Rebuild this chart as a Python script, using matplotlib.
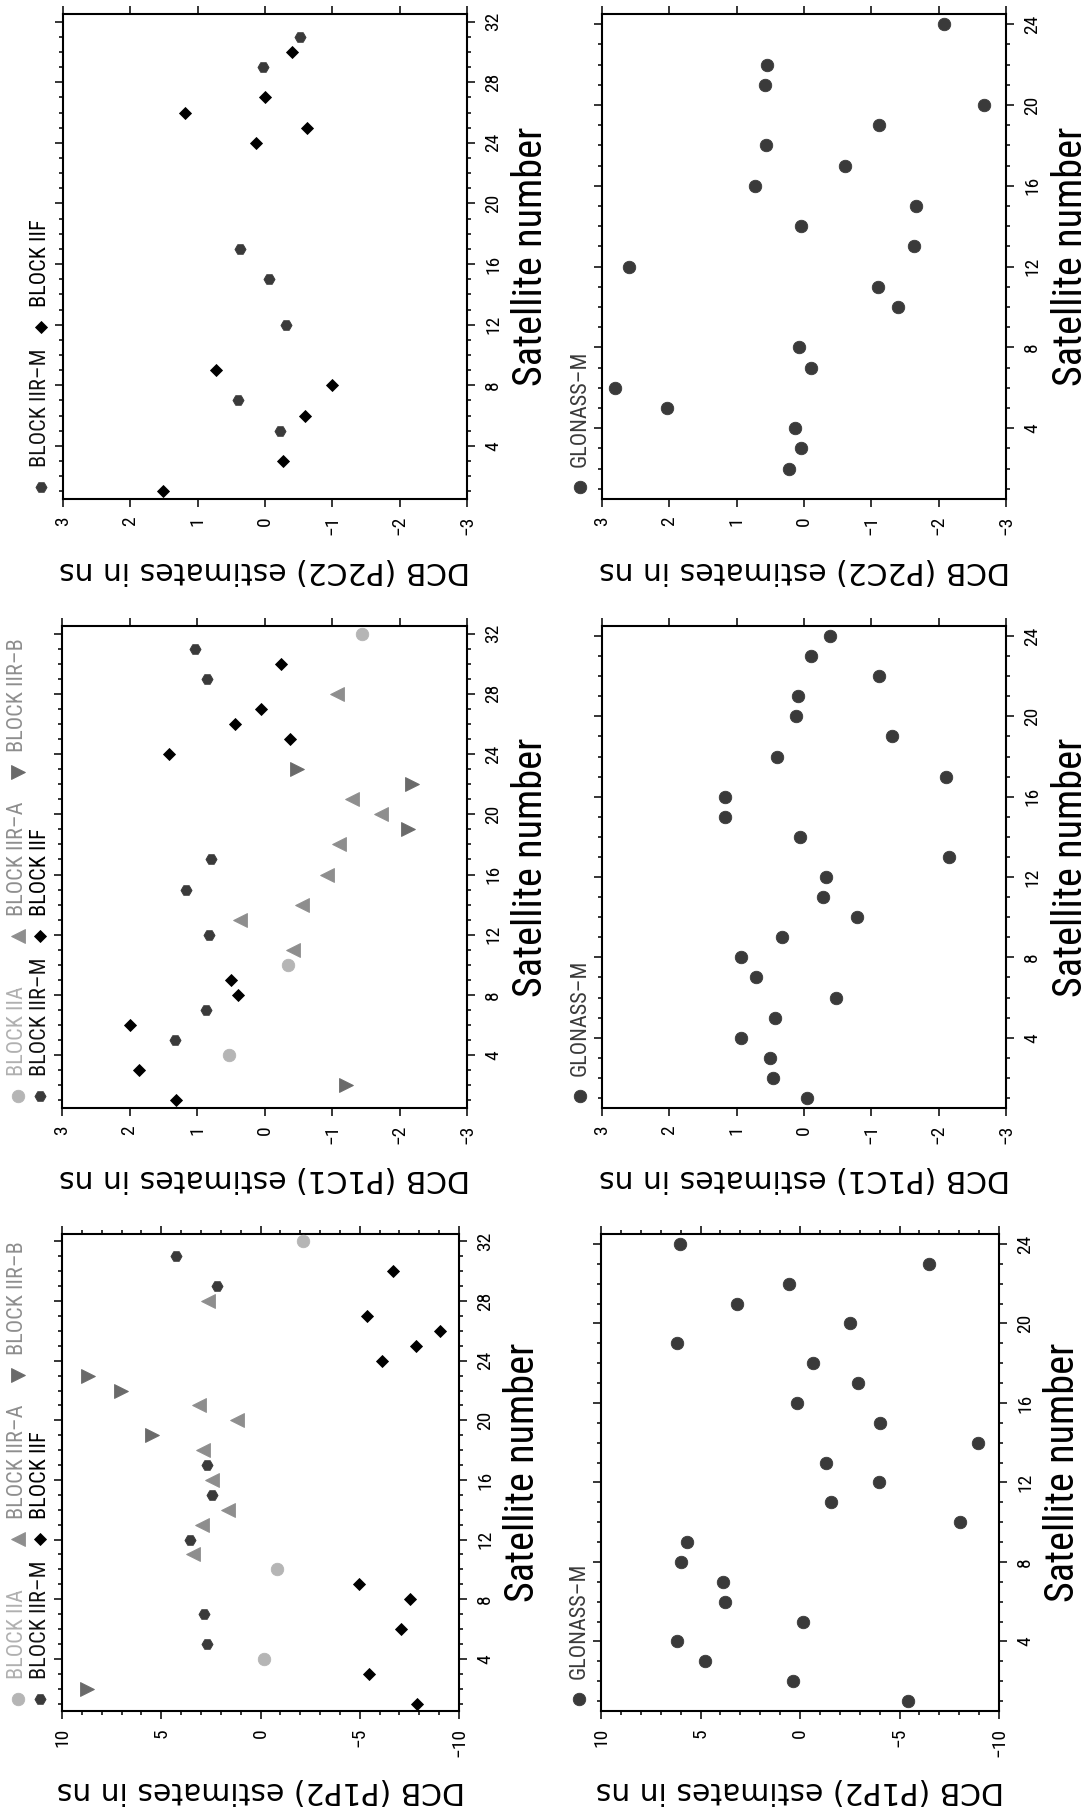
import matplotlib
matplotlib.use("Agg")
import matplotlib.pyplot as plt
from matplotlib.lines import Line2D
from matplotlib.ticker import MultipleLocator

# ---------------------------------------------------------------- data
# GPS, DCB P2C2 (ns)
p2c2_gps_iirm_sat = [5, 7, 12, 15, 17, 29, 31]
p2c2_gps_iirm = [-0.23, 0.40, -0.31, -0.06, 0.37, 0.03, -0.52]
p2c2_gps_iif_sat = [1, 3, 6, 8, 9, 24, 25, 26, 27, 30]
p2c2_gps_iif = [1.52, -0.27, -0.59, -0.99, 0.73, 0.14, -0.62, 1.19, 0.00, -0.40]

# GLONASS, DCB P2C2 (ns)
p2c2_glo_sat = [2, 3, 4, 5, 6, 7, 8, 10, 11, 12, 13, 14, 15, 16, 17, 18, 19, 20, 21, 22, 24]
p2c2_glo = [0.22, 0.04, 0.14, 2.04, 2.81, -0.11, 0.07, -1.40, -1.10, 2.60, -1.64,
            0.04, -1.66, 0.73, -0.61, 0.56, -1.12, -2.67, 0.58, 0.55, -2.08]

# GPS, DCB P1C1 (ns)
p1c1_gps_iia_sat = [4, 10, 32]
p1c1_gps_iia = [0.53, -0.35, -1.45]
p1c1_gps_iira_sat = [11, 13, 14, 16, 18, 20, 21, 28]
p1c1_gps_iira = [-0.42, 0.37, -0.56, -0.93, -1.11, -1.72, -1.30, -1.07]
p1c1_gps_iirb_sat = [2, 19, 22, 23]
p1c1_gps_iirb = [-1.21, -2.12, -2.19, -0.48]
p1c1_gps_iirm_sat = [5, 7, 12, 15, 17, 29, 31]
p1c1_gps_iirm = [1.32, 0.86, 0.82, 1.17, 0.79, 0.85, 1.03]
p1c1_gps_iif_sat = [1, 3, 6, 8, 9, 24, 25, 26, 27, 30]
p1c1_gps_iif = [1.31, 1.86, 1.99, 0.40, 0.49, 1.42, -0.38, 0.44, 0.05, -0.25]

# GLONASS, DCB P1C1 (ns)
p1c1_glo_sat = list(range(1, 25))
p1c1_glo = [-0.04, 0.46, 0.51, 0.94, 0.43, -0.48, 0.72, 0.93, 0.33, -0.78, -0.28, -0.33,
            -2.16, 0.06, 1.18, 1.18, -2.11, 0.40, -1.31, 0.12, 0.09, -1.11, -0.11, -0.38]

# GPS, DCB P1P2 (ns)
p1p2_gps_iia_sat = [4, 10, 32]
p1p2_gps_iia = [-0.17, -0.85, -2.16]
p1p2_gps_iira_sat = [11, 13, 14, 16, 18, 20, 21, 28]
p1p2_gps_iira = [3.42, 2.97, 1.64, 2.43, 2.88, 1.19, 3.11, 2.67]
p1p2_gps_iirb_sat = [2, 19, 22, 23]
p1p2_gps_iirb = [8.75, 5.49, 7.02, 8.70]
p1p2_gps_iirm_sat = [5, 7, 12, 15, 17, 29, 31]
p1p2_gps_iirm = [2.68, 2.87, 3.57, 2.46, 2.72, 2.18, 4.26]
p1p2_gps_iif_sat = [1, 3, 6, 8, 9, 24, 25, 26, 27, 30]
p1p2_gps_iif = [-7.88, -5.45, -7.09, -7.51, -4.98, -6.14, -7.82, -9.04, -5.37, -6.67]

# GLONASS, DCB P1P2 (ns)
p1p2_glo_sat = list(range(1, 25))
p1p2_glo = [-5.44, 0.35, 4.77, 6.19, -0.14, 3.77, 3.86, 5.96, 5.70, -8.04, -1.58, -3.95,
            -1.32, -8.95, -4.00, 0.14, -2.89, -0.67, 6.19, -2.49, 3.19, 0.53, -6.49, 6.02]

# ---------------------------------------------------------------- styles
W, H = 1092, 1812
NARROW = ['Roboto Condensed', 'Archivo Narrow', 'PT Sans Narrow', 'DejaVu Sans']
WIDE = ['DejaVu Sans']

STYLE = {
    'BLOCK IIA':   dict(marker='o', ms=9.0, color='#b5b5b5', text='#b0b0b0'),
    'BLOCK IIR–A': dict(marker='<', ms=9.5, color='#8e8e8e', text='#8e8e8e'),
    'BLOCK IIR–B': dict(marker='>', ms=9.5, color='#6a6a6a', text='#8e8e8e'),
    'BLOCK IIR–M': dict(marker='H', ms=8.0, color='#3a3a3a', text='#111111'),
    'BLOCK IIF':   dict(marker='D', ms=6.6, color='#000000', text='#000000'),
    'GLONASS–M':   dict(marker='o', ms=9.0, color='#3a3a3a', text='#3a3a3a'),
}

fig = plt.figure(figsize=(W / 100, H / 100), dpi=100)
fig.patch.set_facecolor('white')


def add_panel(box, lim, major, minor, nsat, ylabel, ylabel_dy):
    left, top, right, bottom = box
    ax = fig.add_axes([left / W, 1 - bottom / H, (right - left) / W, (bottom - top) / H])
    ax.set_xlim(lim, -lim)
    ax.set_ylim(0.5, nsat + 0.5)
    ax.set_xticks(list(range(-lim, lim + 1, major)))
    if minor:
        ax.xaxis.set_minor_locator(MultipleLocator(minor))
    ax.set_yticks(list(range(4, nsat + 1, 4)))
    ax.yaxis.set_minor_locator(MultipleLocator(1))
    ax.set_xticklabels([f"{v:d}".replace('-', '\u2212') for v in range(-lim, lim + 1, major)])
    ax.set_yticklabels([str(v) for v in range(4, nsat + 1, 4)])
    ax.tick_params(which='both', direction='out', top=True, bottom=True, left=True,
                   right=True, labelbottom=True, labeltop=False, labelleft=False,
                   labelright=True, width=1.1, colors='black')
    ax.tick_params(which='major', length=5.8, pad=6.5, labelsize=14)
    ax.tick_params(which='minor', length=3.0)
    for lab in ax.get_xticklabels():
        lab.set_rotation(90)
        lab.set_family(NARROW)
    for lab in ax.get_yticklabels():
        lab.set_rotation(90)
        lab.set_va('center')
        lab.set_family(NARROW)
    for sp in ax.spines.values():
        sp.set_linewidth(1.5)
    # axis titles
    fig.text((right + 64) / W, 1 - ((top + bottom) / 2) / H, 'Satellite number',
             rotation=90, ha='center', va='center', fontsize=29, family=NARROW)
    fig.text(((left + right) / 2) / W, 1 - (bottom + ylabel_dy) / H, ylabel,
             rotation=180, ha='center', va='center', fontsize=21.5, family=WIDE)
    return ax


def scatter(ax, sats, vals, name):
    st = STYLE[name]
    ax.plot(vals, sats, ls='none', marker=st['marker'], ms=st['ms'],
            color=st['color'], mec=st['color'], mew=0.6, clip_on=False, zorder=3)


def legend(box, entries):
    left, top, right, bottom = box
    for name, line, slot in entries:
        st = STYLE[name]
        x = left - (22 if line == 2 else 44)
        y = bottom - (12, 172, 336)[slot]
        fig.add_artist(Line2D([x / W], [1 - y / H], transform=fig.transFigure,
                              ls='none', marker=st['marker'], ms=st['ms'],
                              color=st['color'], mec=st['color'], mew=0.6))
        fig.text(x / W, 1 - (y - 20) / H, name, rotation=90, ha='center',
                 va='bottom', fontsize=16, family=NARROW, color=st['text'])


# ---------------------------------------------------------------- panels
box = (63, 14, 467, 499)
ax = add_panel(box, 3, 1, None, 32, 'DCB (P2C2) estimates in ns', 72)
scatter(ax, p2c2_gps_iirm_sat, p2c2_gps_iirm, 'BLOCK IIR–M')
scatter(ax, p2c2_gps_iif_sat, p2c2_gps_iif, 'BLOCK IIF')
legend(box, [('BLOCK IIR–M', 2, 0), ('BLOCK IIF', 2, 1)])

box = (602, 14, 1006, 499)
ax = add_panel(box, 3, 1, None, 24, 'DCB (P2C2) estimates in ns', 72)
scatter(ax, p2c2_glo_sat, p2c2_glo, 'GLONASS–M')
legend(box, [('GLONASS–M', 2, 0)])

gps_entries = [('BLOCK IIA', 1, 0), ('BLOCK IIR–A', 1, 1), ('BLOCK IIR–B', 1, 2),
               ('BLOCK IIR–M', 2, 0), ('BLOCK IIF', 2, 1)]

box = (62, 626, 467, 1108)
ax = add_panel(box, 3, 1, None, 32, 'DCB (P1C1) estimates in ns', 70)
scatter(ax, p1c1_gps_iia_sat, p1c1_gps_iia, 'BLOCK IIA')
scatter(ax, p1c1_gps_iira_sat, p1c1_gps_iira, 'BLOCK IIR–A')
scatter(ax, p1c1_gps_iirb_sat, p1c1_gps_iirb, 'BLOCK IIR–B')
scatter(ax, p1c1_gps_iirm_sat, p1c1_gps_iirm, 'BLOCK IIR–M')
scatter(ax, p1c1_gps_iif_sat, p1c1_gps_iif, 'BLOCK IIF')
legend(box, gps_entries)

box = (602, 626, 1006, 1108)
ax = add_panel(box, 3, 1, None, 24, 'DCB (P1C1) estimates in ns', 70)
scatter(ax, p1c1_glo_sat, p1c1_glo, 'GLONASS–M')
legend(box, [('GLONASS–M', 2, 0)])

box = (62, 1234, 459, 1711)
ax = add_panel(box, 10, 5, 1, 32, 'DCB (P1P2) estimates in ns', 80)
scatter(ax, p1p2_gps_iia_sat, p1p2_gps_iia, 'BLOCK IIA')
scatter(ax, p1p2_gps_iira_sat, p1p2_gps_iira, 'BLOCK IIR–A')
scatter(ax, p1p2_gps_iirb_sat, p1p2_gps_iirb, 'BLOCK IIR–B')
scatter(ax, p1p2_gps_iirm_sat, p1p2_gps_iirm, 'BLOCK IIR–M')
scatter(ax, p1p2_gps_iif_sat, p1p2_gps_iif, 'BLOCK IIF')
legend(box, gps_entries)

box = (601, 1234, 999, 1711)
ax = add_panel(box, 10, 5, 1, 24, 'DCB (P1P2) estimates in ns', 80)
scatter(ax, p1p2_glo_sat, p1p2_glo, 'GLONASS–M')
legend(box, [('GLONASS–M', 2, 0)])

fig.savefig('out.png', dpi=100, facecolor='white')
